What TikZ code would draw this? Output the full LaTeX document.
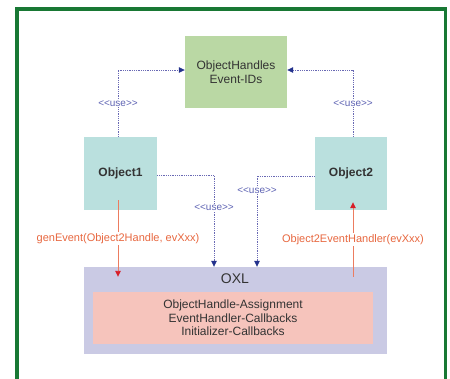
\documentclass[tikz,border=0pt]{standalone}
\usepackage{fontspec}
\newfontfamily\diagfont{Liberation Sans}
\usetikzlibrary{arrows.meta,calc}

\definecolor{frameGreen}{RGB}{24,120,52}
\definecolor{handleFill}{RGB}{186,216,164}
\definecolor{objFill}{RGB}{186,224,222}
\definecolor{oxlFill}{RGB}{202,202,228}
\definecolor{coreFill}{RGB}{246,196,188}
\definecolor{useLine}{RGB}{105,105,180}
\definecolor{useTip}{RGB}{35,50,140}
\definecolor{useText}{RGB}{95,100,180}
\definecolor{callLine}{RGB}{236,124,96}
\definecolor{callTip}{RGB}{215,30,40}
\definecolor{callText}{RGB}{232,104,64}

\tikzset{
  box/.style={rectangle,inner sep=0pt,text=black!80,align=center,
    font=\diagfont\fontsize{12}{14}\selectfont},
  usearrow/.style={useLine,densely dotted,line width=0.8pt,
    -{Triangle[width=5.5pt,length=6pt,color=useTip]}},
  uselabel/.style={fill=white,inner sep=1pt,text=useText,
    font=\diagfont\fontsize{10}{12}\selectfont},
  callarrow/.style={callLine,line width=0.9pt,
    -{Triangle[width=5.5pt,length=6pt,color=callTip]}},
  calllabel/.style={fill=white,inner sep=1.5pt,text=callText,
    font=\diagfont\fontsize{11}{13}\selectfont}
}

\begin{document}
\begin{tikzpicture}[x=1pt,y=-1pt]
  \useasboundingbox (0,0) rectangle (450,378);
  % outer frame, open at the bottom
  \draw[frameGreen,line width=3.5pt] (17,380) -- (17,9) -- (445.5,9) -- (445.5,380);

  % boxes
  \node[box,fill=handleFill,minimum width=102pt,minimum height=72pt] (handles) at (236,72)
    {ObjectHandles\\Event-IDs};
  \node[box,fill=objFill,minimum width=73pt,minimum height=73pt,font=\diagfont\bfseries\fontsize{12}{14}\selectfont] (obja) at (120.5,173.5) {Object1};
  \node[box,fill=objFill,minimum width=72pt,minimum height=73pt,font=\diagfont\bfseries\fontsize{12}{14}\selectfont] (objb) at (351,173.5) {Object2};
  \node[box,fill=oxlFill,minimum width=303pt,minimum height=87pt] (oxl) at (235.5,310.5) {};
  \node[box,font=\diagfont\fontsize{14}{16}\selectfont] (oxltitle) at (235,279) {OXL};
  \node[box,fill=coreFill,minimum width=280pt,minimum height=52pt,
    font=\diagfont\fontsize{12}{13.5}\selectfont] (core) at (233,318)
    {ObjectHandle-Assignment\\EventHandler-Callbacks\\Initializer-Callbacks};

  % <<use>> dependencies
  \draw[usearrow] ([xshift=-2.5pt]obja.north) |- ([yshift=2pt]handles.west)
    node[uselabel,pos=0.25] {<<use>>};
  \draw[usearrow] ([xshift=2pt]objb.north) |- ([yshift=2pt]handles.east)
    node[uselabel,pos=0.25] {<<use>>};
  \draw[usearrow] ([yshift=-1.5pt]obja.east) -| ([xshift=-21.5pt]oxl.north)
    node[uselabel,pos=0.68] {<<use>>};
  \draw[usearrow] ([yshift=-2.5pt]objb.west) -| ([xshift=21.5pt]oxl.north)
    node[uselabel,pos=0.58] {<<use>>};

  % calls
  \draw[callarrow] ($(obja.south)+(-2.5,-10)$) -- ($(obja.south |- oxl.north)+(-2.5,10)$)
    node[calllabel,midway] {genEvent(Object2Handle, evXxx)};
  \draw[callarrow] ($(objb.south |- oxl.north)+(2,10)$) -- ($(objb.south)+(2,-8)$)
    node[calllabel,midway] {Object2EventHandler(evXxx)};
\end{tikzpicture}
\end{document}
